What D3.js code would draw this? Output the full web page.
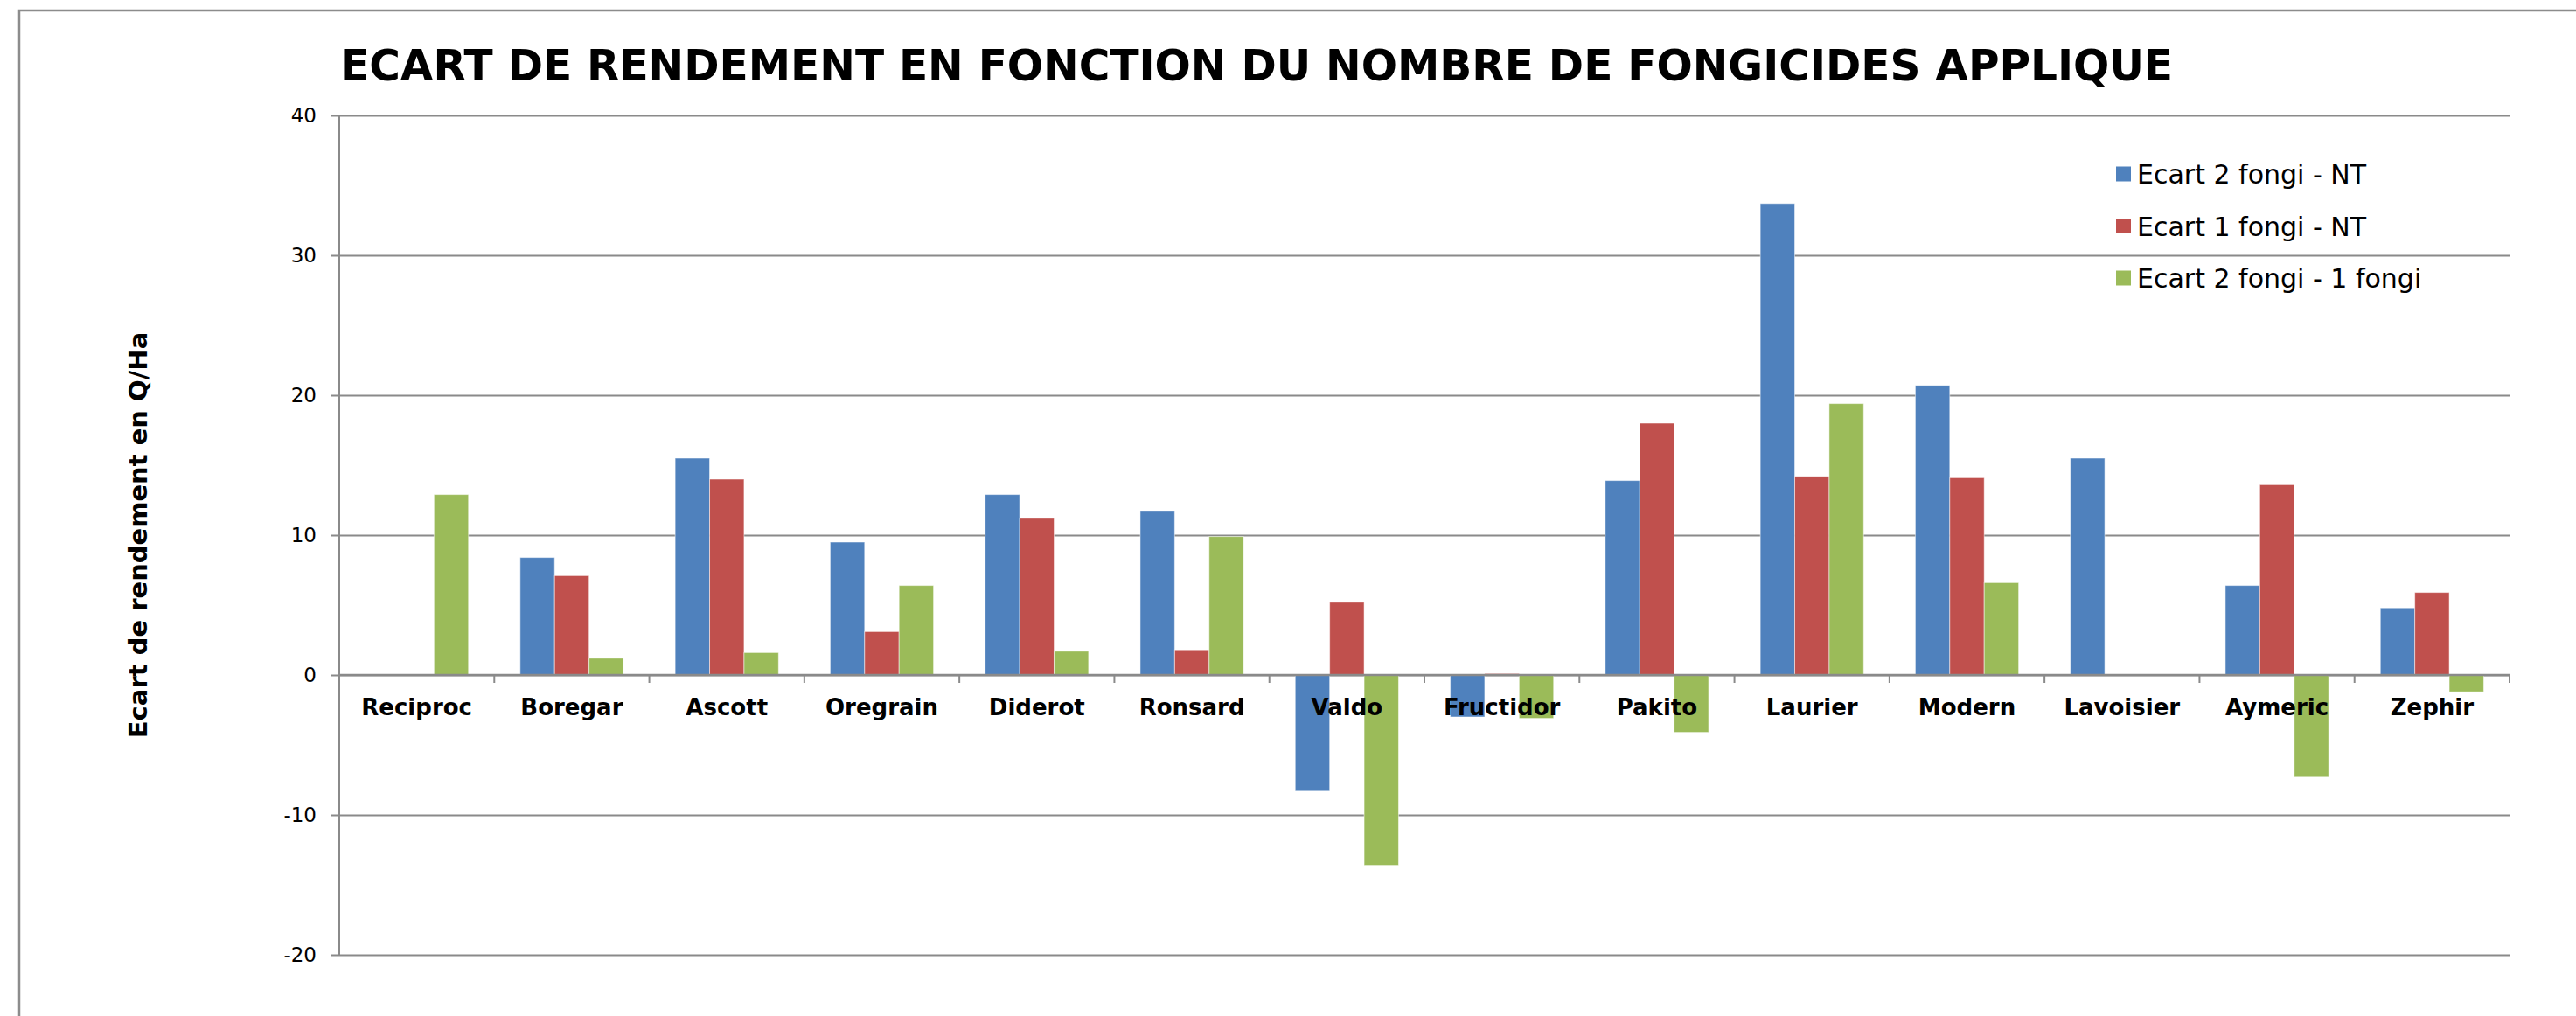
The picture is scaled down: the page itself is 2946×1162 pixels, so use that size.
<!DOCTYPE html>
<html>
<head>
<meta charset="utf-8">
<script src="https://cdn.jsdelivr.net/npm/d3@7"></script>
<style>
    body { margin: 0; background: #fff; }
    text { font-family: "DejaVu Sans", Verdana, sans-serif; }
</style>
</head>
<body>
<div id="chart"></div>
<script>
// varieties on the x axis
const categories = ["Reciproc", "Boregar", "Ascott", "Oregrain", "Diderot", "Ronsard", "Valdo",
    "Fructidor", "Pakito", "Laurier", "Modern", "Lavoisier", "Aymeric", "Zephir"];

// series (Q/Ha), null = no bar
const ecart2fongiNT = [null, 8.4, 15.5, 9.5, 12.9, 11.7, -8.3, -3.0, 13.9, 33.7, 20.7, 15.5, 6.4, 4.8];
const ecart1fongiNT = [null, 7.1, 14.0, 3.1, 11.2, 1.8, 5.2, 0.1, 18.0, 14.2, 14.1, null, 13.6, 5.9];
const ecart2fongi1fongi = [12.9, 1.2, 1.6, 6.4, 1.7, 9.9, -13.6, -3.1, -4.1, 19.4, 6.6, null, -7.3, -1.2];

const seriesNames = ["Ecart 2 fongi - NT", "Ecart 1 fongi - NT", "Ecart 2 fongi - 1 fongi"];
const seriesColors = ["#4f81bd", "#c0504d", "#9bbb59"];
const yTicks = [-20, -10, 0, 10, 20, 30, 40];

class YieldChart {
    constructor(parentContainer) {
        this.parentContainer = parentContainer;
        this.initVis();
    }

    initVis() {
        let vis = this;

        vis.width = 2946;
        vis.height = 1162;
        vis.plot = { left: 388, right: 2870, top: 132, bottom: 1092 };

        vis.svg = d3.select("#" + vis.parentContainer).append("svg")
            .attr("width", vis.width)
            .attr("height", vis.height);

        vis.svg.append("rect")
            .attr("width", vis.width)
            .attr("height", vis.height)
            .attr("fill", "#fff");

        // outer chart frame (only left and top edges are in the picture)
        vis.svg.append("path")
            .attr("d", `M22,${vis.height} L22,12 L${vis.width},12`)
            .attr("fill", "none")
            .attr("stroke", "#8c8c8c")
            .attr("stroke-width", 2.5);

        vis.x0 = d3.scaleBand()
            .domain(categories)
            .range([vis.plot.left, vis.plot.right])
            .paddingInner(0)
            .paddingOuter(0);

        vis.x1 = d3.scaleBand()
            .domain(seriesNames)
            .range([0, vis.x0.bandwidth()])
            .paddingInner(0)
            .paddingOuter(0.75);

        vis.y = d3.scaleLinear()
            .domain([-20, 40])
            .range([vis.plot.bottom, vis.plot.top]);

        vis.updateVis();
    }

    updateVis() {
        let vis = this;

        // gridlines + y axis
        let yAxis = d3.axisLeft(vis.y)
            .tickValues(yTicks)
            .tickFormat(d => String(d))
            .tickSize(-(vis.plot.right - vis.plot.left))
            .tickPadding(26);

        let yG = vis.svg.append("g")
            .attr("transform", `translate(${vis.plot.left},0)`)
            .call(yAxis);
        yG.select(".domain").remove();
        yG.selectAll(".tick line")
            .attr("x1", -9)
            .attr("stroke", "#8a8a8a")
            .attr("stroke-width", 2);
        yG.selectAll(".tick text")
            .style("font-size", "23px")
            .attr("fill", "#000");

        vis.svg.append("line")
            .attr("x1", vis.plot.left).attr("x2", vis.plot.left)
            .attr("y1", vis.plot.top).attr("y2", vis.plot.bottom)
            .attr("stroke", "#8a8a8a")
            .attr("stroke-width", 2);

        // bars
        let allSeries = [ecart2fongiNT, ecart1fongiNT, ecart2fongi1fongi];
        let barData = [];
        categories.forEach((c, i) => {
            allSeries.forEach((s, j) => {
                if (s[i] !== null) barData.push({ cat: c, series: seriesNames[j], color: seriesColors[j], value: s[i] });
            });
        });

        vis.svg.append("g").selectAll("rect")
            .data(barData)
            .enter().append("rect")
            .attr("x", d => vis.x0(d.cat) + vis.x1(d.series))
            .attr("width", vis.x1.bandwidth())
            .attr("y", d => vis.y(Math.max(0, d.value)))
            .attr("height", d => Math.abs(vis.y(d.value) - vis.y(0)))
            .attr("fill", d => d.color)
            .attr("stroke", "#fff")
            .attr("stroke-opacity", 0.5)
            .attr("stroke-width", 1);

        // x axis at zero, ticks at category boundaries
        let zeroY = vis.y(0);
        vis.svg.append("line")
            .attr("x1", vis.plot.left).attr("x2", vis.plot.right)
            .attr("y1", zeroY).attr("y2", zeroY)
            .attr("stroke", "#8a8a8a")
            .attr("stroke-width", 2.5);

        let boundaries = categories.map(c => vis.x0(c) + vis.x0.bandwidth());
        vis.svg.append("g").selectAll("line")
            .data(boundaries)
            .enter().append("line")
            .attr("x1", d => d).attr("x2", d => d)
            .attr("y1", zeroY).attr("y2", zeroY + 9)
            .attr("stroke", "#8a8a8a")
            .attr("stroke-width", 2);

        vis.svg.append("g").selectAll("text")
            .data(categories)
            .enter().append("text")
            .attr("x", d => vis.x0(d) + vis.x0.bandwidth() / 2)
            .attr("y", zeroY + 46)
            .attr("text-anchor", "middle")
            .style("font-size", "26px")
            .style("font-weight", "bold")
            .text(d => d);

        // title
        vis.svg.append("text")
            .attr("x", 1437)
            .attr("y", 92)
            .attr("text-anchor", "middle")
            .style("font-size", "50px")
            .style("font-weight", "bold")
            .attr("textLength", 2096)
            .attr("lengthAdjust", "spacingAndGlyphs")
            .text("ECART DE RENDEMENT EN FONCTION DU NOMBRE DE FONGICIDES APPLIQUE");

        // y axis title
        vis.svg.append("text")
            .attr("transform", `translate(168,${(vis.plot.top + vis.plot.bottom) / 2}) rotate(-90)`)
            .attr("text-anchor", "middle")
            .style("font-size", "29px")
            .style("font-weight", "bold")
            .text("Ecart de rendement en Q/Ha");

        vis.createLegend();
    }

    createLegend() {
        let vis = this;

        let legend = vis.svg.append("g")
            .attr("class", "legend")
            .attr("transform", "translate(2420,199)");

        legend.selectAll(".legend-item")
            .data(seriesNames)
            .enter()
            .append("g")
            .attr("class", "legend-item")
            .attr("transform", (d, i) => `translate(0, ${i * 59.5})`)
            .each(function (d, i) {
                let item = d3.select(this);
                item.append("rect")
                    .attr("x", 0)
                    .attr("y", -8.5)
                    .attr("width", 17)
                    .attr("height", 17)
                    .attr("fill", seriesColors[i]);
                item.append("text")
                    .attr("x", 24)
                    .attr("y", 11)
                    .style("font-size", "30px")
                    .text(d);
            });
    }
}

new YieldChart("chart");
</script>
</body>
</html>
